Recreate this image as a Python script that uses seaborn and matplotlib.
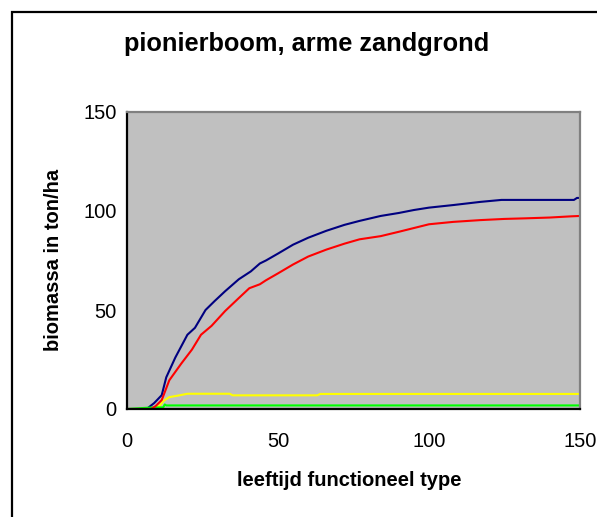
import matplotlib
matplotlib.use("Agg")
import matplotlib.pyplot as plt
import seaborn as sns
from matplotlib.patches import Rectangle

# -----------------------------
# Data
# -----------------------------
blue_t = [0, 6.5, 9, 11.5, 13, 16, 20, 22.5, 26, 29, 32.5, 37, 41, 44, 46, 50,
          55, 60, 66, 72, 77, 84, 90, 95, 100, 108, 117, 124, 130, 140, 148, 149, 150]
blue_v = [0, 0, 3, 7, 16, 26, 37.5, 41, 50, 54.5, 59.5, 65.5, 69.5, 73.5, 75, 78.5,
          83, 86.5, 90, 93, 95, 97.5, 99, 100.5, 101.7, 103, 104.6, 105.6, 105.6, 105.6, 105.6, 106.6, 106.6]

red_t = [0, 8, 9.5, 11.5, 14, 18, 21.5, 24.5, 28, 32.5, 37, 40.5, 44, 46, 50,
         55, 60, 66, 72, 77, 84, 90, 100, 108, 117, 125, 132, 140, 147, 150]
red_v = [0, 0, 1.5, 4.5, 14.5, 23, 30, 37.5, 42, 49.5, 56, 61, 63, 65, 68.5,
         73, 77, 80.5, 83.5, 85.7, 87.3, 89.5, 93.3, 94.5, 95.4, 96, 96.3, 96.7, 97.3, 97.5]

yellow_t = [0, 9, 11, 12, 13, 14, 17, 20, 34, 35, 63, 64, 150]
yellow_v = [0, 0, 2, 4, 5, 6, 6.8, 7.7, 7.7, 6.9, 6.9, 7.6, 7.6]

green_t = [0, 8.5, 12, 12.5, 13, 150]
green_v = [0, 0.8, 0.8, 2.3, 1.8, 1.8]

ticks = [0, 50, 100, 150]

TITLE = "pionierboom, arme zandgrond"
XLABEL = "leeftijd functioneel type"
YLABEL = "biomassa in ton/ha"

# -----------------------------
# Style
# -----------------------------
sns.set_style("white")
plt.rcParams['font.family'] = ['Liberation Sans', 'DejaVu Sans']
plt.rcParams['text.color'] = "black"

fig = plt.figure(figsize=(5.97, 5.17), dpi=100)
ax = fig.add_axes([127 / 597, 1 - 409 / 517, 453 / 597, 297 / 517])
ax.set_facecolor("#C0C0C0")

lw = 1.5
sns.lineplot(x=blue_t, y=blue_v, color="#000080", linewidth=lw, ax=ax)
sns.lineplot(x=yellow_t, y=yellow_v, color="#FFFF00", linewidth=lw, ax=ax)
sns.lineplot(x=green_t, y=green_v, color="#00FF00", linewidth=lw, ax=ax)
sns.lineplot(x=red_t, y=red_v, color="#FF0000", linewidth=lw, ax=ax)

ax.set_xlim(0, 150)
ax.set_ylim(0, 150)
ax.set_xticks(ticks)
ax.set_yticks(ticks)
ax.tick_params(direction="inout", length=9, width=1.5, labelsize=14.5,
               colors="black", pad=3)
ax.tick_params(axis="x", pad=12)

for side in ["left", "bottom"]:
    ax.spines[side].set_color("black")
    ax.spines[side].set_linewidth(1.6)
for side in ["top", "right"]:
    ax.spines[side].set_color("#808080")
    ax.spines[side].set_linewidth(1.6)
    ax.spines[side].set_visible(True)

# labels placed in figure coordinates like the original
fig.text(307 / 597, 1 - 44 / 517, TITLE, ha="center", va="center",
         fontsize=18.3, fontweight="bold", color="black")
fig.text(349 / 597, 1 - 481 / 517, XLABEL, ha="center", va="center",
         fontsize=14.5, fontweight="bold", color="black")
fig.text(54 / 597, 1 - 260 / 517, YLABEL, ha="center", va="center",
         rotation=90, fontsize=14.5, fontweight="bold", color="black")

# outer chart border (only left and top fall inside the picture)
fig.patches.append(Rectangle((11.5 / 597, -0.05), 1.2, 1.05 - 11.5 / 517,
                             transform=fig.transFigure, fill=False,
                             edgecolor="black", linewidth=1.6))

fig.savefig("out.png", dpi=100)
